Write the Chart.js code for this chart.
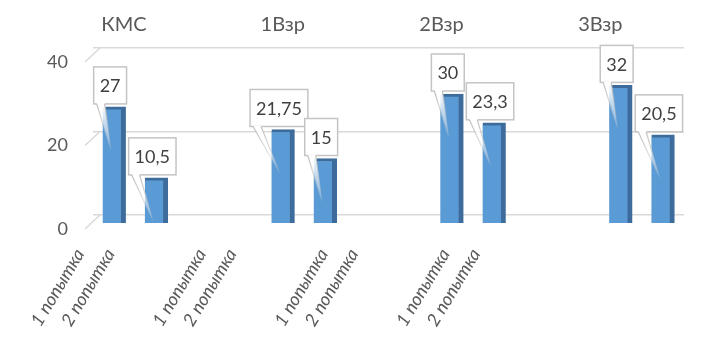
<!DOCTYPE html>
<html>
<head>
<meta charset="utf-8">
<script src="https://cdn.jsdelivr.net/npm/chart.js@4/dist/chart.umd.min.js"></script>
<style>
  html, body { margin: 0; padding: 0; background: #fff; }
  #wrap { width: 724px; height: 348px; }
</style>
</head>
<body>
<div id="wrap"><canvas id="chart" width="724" height="348"></canvas></div>
<script>
// data
const groups = ['КМС', '1Взр', '2Взр', '3Взр'];
const attempts = ['1 попытка', '2 попытка'];
const attempt1 = [27, 21.75, 30, 32];
const attempt2 = [10.5, 15, 23.3, 20.5];
const yTicks = [0, 20, 40];

// each group takes 4 slots: two bars and two empty ones
const slotValues = [];
const slotLabels = [];
const attemptSlots = [];
const groupCenters = [];
groups.forEach((g, i) => {
    slotValues.push(attempt1[i], attempt2[i]);
    slotLabels.push(attempts[0], attempts[1]);
    attemptSlots.push(i * 4, i * 4 + 1);
    groupCenters.push(i * 4 + 0.5);
    if (i < groups.length - 1) {
        slotValues.push(null, null);
        slotLabels.push('', '');
    }
});

const textColor = '#595959';
const gridColor = '#d9d9d9';

function fmt(v) {
    return String(v).replace('.', ',');
}

const calloutPlugin = {
    id: 'callouts',
    beforeDatasetsDraw(chart) {
        // little slanted stubs joining the value labels to the back wall
        const ctx = chart.ctx;
        const s = chart.scales.y2;
        ctx.save();
        ctx.strokeStyle = gridColor;
        ctx.lineWidth = 1.5;
        s.ticks.forEach((t) => {
            const py = s.getPixelForValue(t.value);
            ctx.beginPath();
            ctx.moveTo(s.right - 8, py + 14);
            ctx.lineTo(s.right + 7, py);
            ctx.stroke();
        });
        ctx.restore();
    },
    afterDatasetsDraw(chart) {
        const ctx = chart.ctx;
        const meta = chart.getDatasetMeta(0);
        ctx.save();
        ctx.font = '18px Lato';
        meta.data.forEach((bar, i) => {
            const v = slotValues[i];
            if (v == null) return;
            const text = fmt(v);
            const w = ctx.measureText(text).width + 12;
            const h = 37;
            const cx = bar.x - 4;
            const left = cx - w / 2;
            const bottom = bar.y - 3;
            const top = bottom - h;
            const tipX = bar.x - 3;
            const tipY = bar.y + 44;

            ctx.fillStyle = '#ffffff';
            ctx.fillRect(left, top, w, h);
            ctx.strokeStyle = '#c4c4c4';
            ctx.lineWidth = 1.5;
            ctx.strokeRect(left, top, w, h);

            // tail
            const fillG = ctx.createLinearGradient(0, bottom, 0, tipY);
            fillG.addColorStop(0, 'rgba(255,255,255,1)');
            fillG.addColorStop(1, 'rgba(255,255,255,0.15)');
            ctx.beginPath();
            ctx.moveTo(left + 3, bottom - 1);
            ctx.lineTo(tipX, tipY);
            ctx.lineTo(left + 11, bottom - 1);
            ctx.closePath();
            ctx.fillStyle = fillG;
            ctx.fill();

            const lineG = ctx.createLinearGradient(0, bottom, 0, tipY);
            lineG.addColorStop(0, 'rgba(190,190,190,1)');
            lineG.addColorStop(1, 'rgba(190,190,190,0)');
            ctx.strokeStyle = lineG;
            ctx.lineWidth = 1.2;
            ctx.beginPath();
            ctx.moveTo(left + 3, bottom);
            ctx.lineTo(tipX, tipY);
            ctx.lineTo(left + 11, bottom);
            ctx.stroke();

            ctx.fillStyle = '#404040';
            ctx.textAlign = 'center';
            ctx.textBaseline = 'middle';
            ctx.fillText(text, cx, top + h / 2 + 1);
        });
        ctx.restore();
    }
};

const ctx = document.getElementById('chart').getContext('2d');

new Chart(ctx, {
    type: 'bar',
    data: {
        labels: slotLabels,
        datasets: [{
            label: 'Результат',
            data: slotValues,
            backgroundColor: '#5b9bd5',
            borderColor: '#3d6c9c',
            borderWidth: { top: 3, right: 5, bottom: 0, left: 0 },
            borderSkipped: false,
            barThickness: 23,
            xAxisID: 'x',
            yAxisID: 'y'
        }]
    },
    options: {
        responsive: false,
        animation: false,
        layout: { padding: { left: 0, right: 40, top: 0, bottom: 0 } },
        plugins: {
            legend: { display: false },
            tooltip: { enabled: false }
        },
        scales: {
            x: {
                type: 'category',
                display: false
            },
            y: {
                type: 'linear',
                display: false,
                min: 0,
                max: 40.7
            },
            // back wall: gridlines and value labels
            y2: {
                type: 'linear',
                position: 'left',
                min: -1.916,
                max: 40,
                afterBuildTicks: (s) => { s.ticks = yTicks.map(v => ({ value: v })); },
                afterFit: (s) => { s.width = 93; },
                border: { display: false },
                grid: { color: gridColor, lineWidth: 1.5, drawTicks: false },
                ticks: {
                    color: textColor,
                    font: { family: 'Lato', size: 18 },
                    padding: 25,
                    labelOffset: 14
                }
            },
            // attempt labels under the bars
            x2: {
                type: 'linear',
                position: 'bottom',
                offset: false,
                min: 0.427,
                max: 19.83,
                afterBuildTicks: (s) => { s.ticks = attemptSlots.map(v => ({ value: v })); },
                afterFit: (s) => { s.height = 125; },
                border: { display: false },
                grid: { display: false, drawTicks: false, offset: false },
                ticks: {
                    autoSkip: false,
                    minRotation: 59,
                    maxRotation: 59,
                    padding: 22,
                    color: textColor,
                    font: { family: 'Lato', size: 18, style: 'italic' },
                    callback: (v, i) => slotLabels[attemptSlots[i]]
                }
            },
            // group names above the bars
            x3: {
                type: 'linear',
                position: 'top',
                offset: false,
                min: -0.28,
                max: 14.61,
                afterBuildTicks: (s) => { s.ticks = groupCenters.map(v => ({ value: v })); },
                afterFit: (s) => { s.height = 48; },
                border: { display: false },
                grid: { display: false, drawTicks: false, offset: false },
                ticks: {
                    autoSkip: false,
                    maxRotation: 0,
                    padding: 11,
                    color: textColor,
                    font: { family: 'Lato', size: 20 },
                    callback: (v, i) => groups[i]
                }
            }
        }
    },
    plugins: [calloutPlugin]
});
</script>
</body>
</html>
